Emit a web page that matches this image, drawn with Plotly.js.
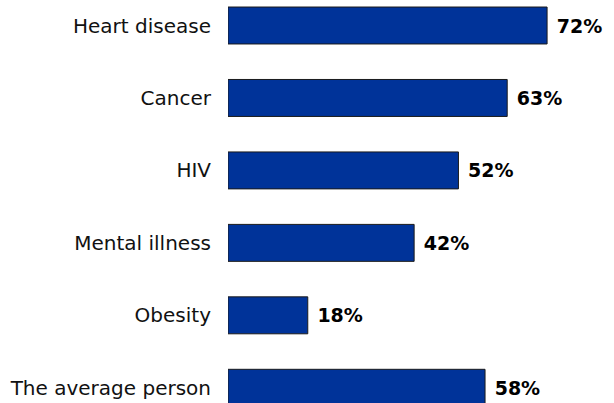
<!DOCTYPE html>
<html>
<head>
<meta charset="utf-8">
<script src="https://cdn.plot.ly/plotly-3.0.1.min.js"></script>
<style>html,body{margin:0;padding:0;background:#fff;}#chart{width:614px;height:403px;}</style>
</head>
<body>
<div id="chart"></div>
<script>
const categories = ["Heart disease", "Cancer", "HIV", "Mental illness", "Obesity", "The average person"];
const values = [72, 63, 52, 42, 18, 58];
const valueLabels = ["72%", "63%", "52%", "42%", "18%", "58%"];

const trace = {
  type: "bar",
  orientation: "h",
  y: categories,
  x: values,
  text: valueLabels.map(s => "\u00a0" + s),
  textposition: "outside",
  cliponaxis: false,
  textfont: {family: "DejaVu Sans", size: 19, color: "#000", weight: "bold"},
  marker: {color: "#003399", line: {color: "#1a1a1a", width: 1}},
  width: 0.51,
  hoverinfo: "none"
};

const layout = {
  width: 614, height: 403,
  margin: {l: 228, r: 0, t: 0, b: 0, pad: 0},
  paper_bgcolor: "#fff", plot_bgcolor: "#fff",
  showlegend: false,
  uniformtext: {mode: false},
  xaxis: {range: [0, 87.1], visible: false, fixedrange: true},
  yaxis: {
    type: "category",
    range: [5.21, -0.352],
    showgrid: false, zeroline: false, showline: false,
    ticks: "", ticklabelstandoff: 16,
    tickfont: {family: "DejaVu Sans", size: 20, color: "#111"},
    automargin: false
  },
  bargap: 0.49
};

Plotly.newPlot("chart", [trace], layout, {staticPlot: true, displayModeBar: false});
</script>
</body>
</html>
